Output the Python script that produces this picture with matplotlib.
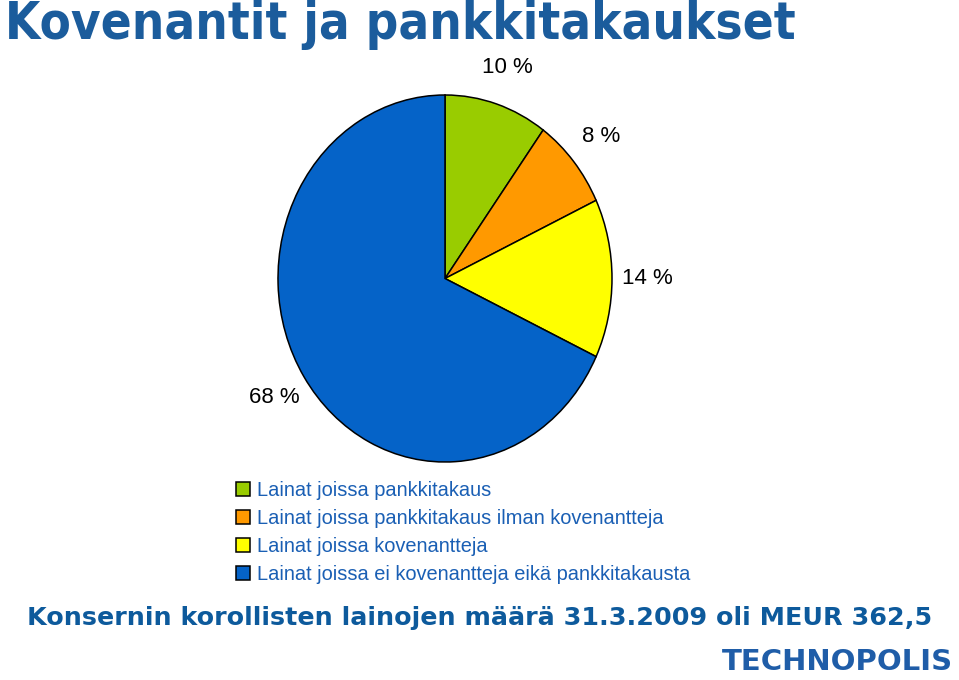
import matplotlib
matplotlib.use("Agg")
import matplotlib.pyplot as plt

# data
categories = [
    "Lainat joissa pankkitakaus",
    "Lainat joissa pankkitakaus ilman kovenantteja",
    "Lainat joissa kovenantteja",
    "Lainat joissa ei kovenantteja eikä pankkitakausta",
]
shares = [10, 8, 14, 68]
colors = ["#99cc00", "#ff9900", "#ffff00", "#0563c8"]

title = "Kovenantit ja pankkitakaukset"
footer = "Konsernin korollisten lainojen määrä 31.3.2009 oli MEUR 362,5"
logo = "TECHNOPOLIS"

W, H = 959, 680
fig = plt.figure(figsize=(W / 100, H / 100), dpi=100)

# pie axes (slightly taller than wide, like the original)
ax = fig.add_axes([278 / W, 1 - 462 / H, 334 / W, 367 / H])
wedges, texts, autotexts = ax.pie(
    shares, colors=colors, startangle=90, counterclock=False,
    autopct=lambda p: f"{p:.0f} %", pctdistance=1.21,
    wedgeprops=dict(edgecolor="black", linewidth=1.1),
    textprops=dict(fontsize=16, family="Liberation Sans", color="black"),
)
ax.set_xlim(-1.0, 1.0)
ax.set_ylim(-1.0, 1.0)
ax.set_aspect("auto")
ax.axis("off")

fig.legend(
    wedges, categories, loc="upper left",
    bbox_to_anchor=(236 / W, 1 - 481 / H),
    frameon=False, borderpad=0, borderaxespad=0,
    handlelength=0.7, handleheight=0.7, handletextpad=0.35,
    labelspacing=0.45,
    prop=dict(family="Liberation Sans", size=14.4),
    labelcolor="#1a5fb4",
)

fig.text(5 / W, 1 - 39 / H, title, fontsize=36.5, fontweight="bold",
         fontstretch="condensed",
         family="DejaVu Sans", color="#1b5c9c", va="baseline", ha="left")
fig.text(27 / W, 1 - 625 / H, footer, fontsize=18.3, fontweight="bold",
         family="DejaVu Sans", color="#0d5a9c", va="baseline", ha="left")

fig.text(953 / W, 1 - 670 / H, logo, fontsize=21, fontweight="heavy",
         family="DejaVu Sans", color="#1f5da8", va="baseline", ha="right")

fig.savefig("out.png", dpi=100)
